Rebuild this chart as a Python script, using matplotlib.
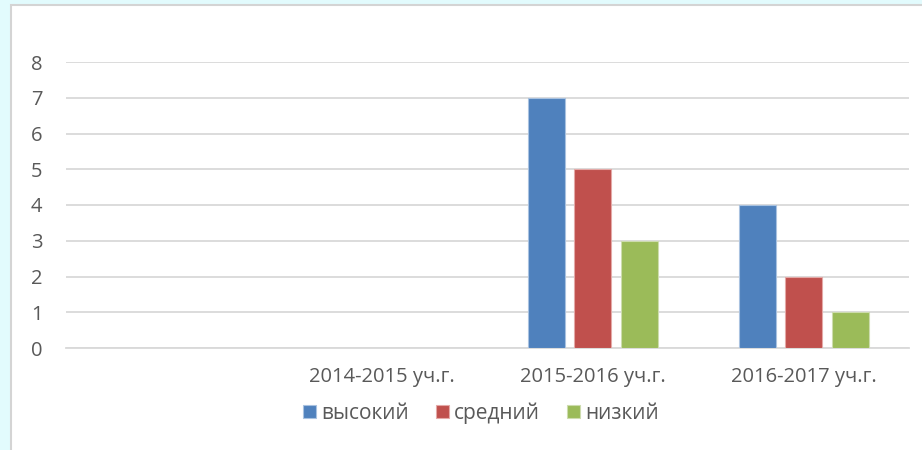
import numpy as np
import matplotlib
matplotlib.use("Agg")
import matplotlib.pyplot as plt
from matplotlib.patches import Rectangle

# data
categories = ["", "2014-2015 уч.г.", "2015-2016 уч.г.", "2016-2017 уч.г."]
series_names = ["высокий", "средний", "низкий"]
high = [np.nan, np.nan, 7, 4]
medium = [np.nan, np.nan, 5, 2]
low = [np.nan, np.nan, 3, 1]
y_ticks = [0, 1, 2, 3, 4, 5, 6, 7, 8]

colors = ["#4f81bd", "#c0504d", "#9bbb59"]
edges = ["#a9c2e0", "#e4a9a7", "#cddcae"]
text_color = "#595959"

plt.rcParams["font.family"] = ["Open Sans", "DejaVu Sans"]

fig = plt.figure(figsize=(9.22, 4.5), dpi=100)
fig.patch.set_facecolor("#e2fbfd")

# white chart panel with grey frame, behind the axes
panel = Rectangle((11 / 922, -0.01), 1.0, 1 - 5 / 450 + 0.01, transform=fig.transFigure,
                  facecolor="white", edgecolor="#d4d4d4", linewidth=1.5, zorder=-10)
fig.patches.append(panel)

ax = fig.add_axes([66 / 922, 1 - 348 / 450, 843 / 922, (348 - 62) / 450])
ax.set_facecolor("none")

x = np.arange(len(categories))
width = 0.176
step = 0.221
for i, vals in enumerate([high, medium, low]):
    ax.bar(x + (i - 1) * step, vals, width, color=colors[i], edgecolor=edges[i],
           linewidth=0.8, label=series_names[i], zorder=3)

ax.set_xlim(-0.5, len(categories) - 0.5)
ax.set_ylim(0, 8)
ax.set_yticks(y_ticks)
ax.set_xticks(x)
ax.set_xticklabels(categories)
ax.yaxis.grid(True, color="#d9d9d9", linewidth=1.3, zorder=0)
ax.set_axisbelow(True)
for s in ["top", "right", "left"]:
    ax.spines[s].set_visible(False)
ax.spines["bottom"].set_color("#d9d9d9")
ax.spines["bottom"].set_linewidth(1.3)
ax.tick_params(length=0, labelsize=14.5, colors=text_color)
ax.tick_params(axis="y", pad=17)
ax.tick_params(axis="x", pad=14)

leg = fig.legend(loc="center", bbox_to_anchor=(481 / 922, 1 - 413 / 450), ncol=3,
                 frameon=False, fontsize=15, handlelength=0.62, handleheight=0.62,
                 handletextpad=0.25, columnspacing=1.3, labelcolor=text_color)

fig.savefig("out.png", dpi=100, facecolor=fig.get_facecolor())
